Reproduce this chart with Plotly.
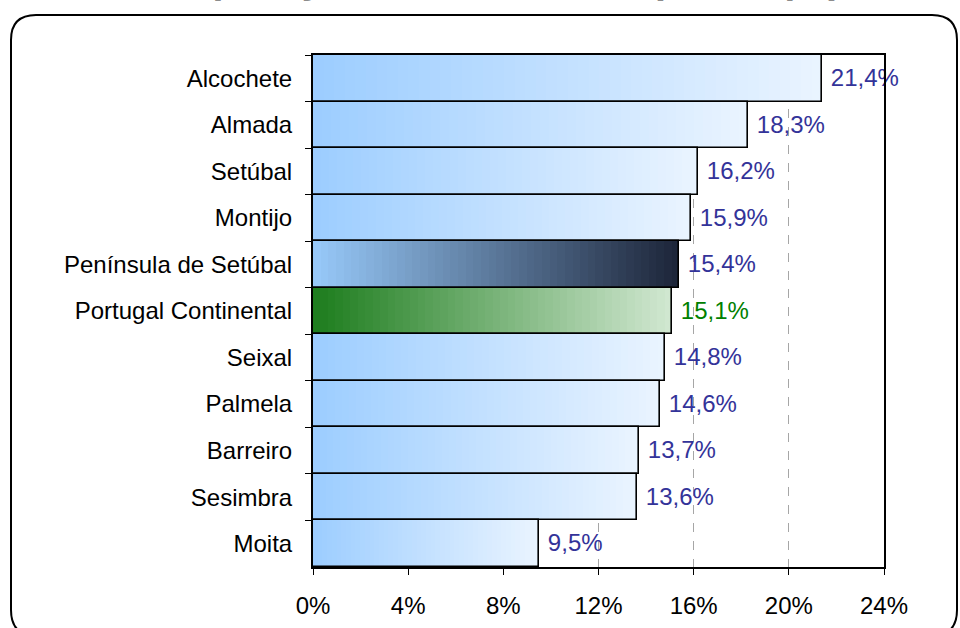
import plotly.graph_objects as go

# ---- data ----
categories = ["Alcochete", "Almada", "Setúbal", "Montijo", "Península de Setúbal",
              "Portugal Continental", "Seixal", "Palmela", "Barreiro", "Sesimbra", "Moita"]
values = [21.4, 18.3, 16.2, 15.9, 15.4, 15.1, 14.8, 14.6, 13.7, 13.6, 9.5]
x_ticks = [0, 4, 8, 12, 16, 20, 24]
title_text = "População com ensino superior (%)"

# ---- style ----
W, H = 960, 628
ML, MR, MT, MB = 313, 76, 55, 61
FONT = "Liberation Sans, Arial, sans-serif"
FS = 24

palettes = {
    "default": ((156, 205, 255), (234, 244, 255)),
    "Península de Setúbal": ((152, 202, 250), (28, 36, 56)),
    "Portugal Continental": ((28, 124, 28), (210, 232, 210)),
}
label_colors = {"Portugal Continental": "#008000"}
N_STEPS = 48


def mix(c0, c1, t):
    return "rgb(%d,%d,%d)" % tuple(round(a + (b - a) * t) for a, b in zip(c0, c1))


fig = go.Figure()

# gradient layers (horizontal gradient approximated by segments of each bar)
for k in range(N_STEPS):
    t = (k + 0.5) / N_STEPS
    cols = [mix(*palettes.get(c, palettes["default"]), t) for c in categories]
    fig.add_trace(go.Bar(
        y=categories,
        x=[v / N_STEPS * 1.05 if k < N_STEPS - 1 else v / N_STEPS for v in values],
        base=[v * k / N_STEPS for v in values],
        orientation="h",
        marker=dict(color=cols, line=dict(width=0)),
        hoverinfo="skip",
        showlegend=False,
    ))

# outline + labels
labels = ["\u00a0" + f"{v:.1f}".replace(".", ",") + "%" for v in values]
fig.add_trace(go.Bar(
    y=categories,
    x=values,
    orientation="h",
    marker=dict(color="rgba(0,0,0,0)", line=dict(color="black", width=1.6)),
    text=labels,
    textposition="outside",
    textfont=dict(family=FONT, size=FS,
                  color=[label_colors.get(c, "#333399") for c in categories]),
    cliponaxis=False,
    showlegend=False,
))


def px(x):
    return (x - ML) / (W - ML - MR)


def py(y):
    return (H - MB - y) / (H - MT - MB)


L, R, T, B, RT, RB = 11, 957, 15, 636, 25, 26
path = (f"M {px(L)},{py(T + RT)} Q {px(L)},{py(T)} {px(L + RT)},{py(T)} "
        f"L {px(R - RT)},{py(T)} Q {px(R)},{py(T)} {px(R)},{py(T + RT)} "
        f"L {px(R)},{py(B - RB)} Q {px(R)},{py(B)} {px(R - RB)},{py(B)} "
        f"L {px(L + RB)},{py(B)} Q {px(L)},{py(B)} {px(L)},{py(B - RB)} Z")

fig.update_layout(
    width=W, height=H,
    margin=dict(l=ML, r=MR, t=MT, b=MB, autoexpand=False),
    paper_bgcolor="white",
    plot_bgcolor="white",
    barmode="overlay",
    bargap=0,
    font=dict(family=FONT, size=FS, color="black"),
    uniformtext=dict(mode=False),
    shapes=[dict(type="path", path=path, xref="paper", yref="paper",
                 line=dict(color="black", width=2), fillcolor="rgba(0,0,0,0)",
                 layer="below")],
    annotations=[dict(text=f"<b><i>{title_text}</i></b>", x=px(505), y=py(3),
                      xref="paper", yref="paper", xanchor="center", yanchor="bottom",
                      showarrow=False, font=dict(family=FONT, size=40, color="#8c8c8c"))],
)

fig.update_xaxes(
    range=[0, 24],
    automargin=False,
    tickvals=x_ticks,
    ticktext=[f"{t}%" for t in x_ticks],
    ticks="outside", ticklen=6, tickwidth=1, tickcolor="black",
    ticklabelstandoff=10,
    showline=True, linecolor="black", linewidth=2, mirror=True,
    showgrid=True, gridcolor="#a6a6a6", griddash="dash", gridwidth=1,
    zeroline=False,
    tickfont=dict(family=FONT, size=FS, color="black"),
)
fig.update_yaxes(
    automargin=False,
    categoryorder="array", categoryarray=categories, autorange="reversed",
    tickson="boundaries",
    ticks="outside", ticklen=6, tickwidth=1, tickcolor="black",
    ticklabelstandoff=14,
    showline=True, linecolor="black", linewidth=2, mirror=True,
    showgrid=False,
    tickfont=dict(family=FONT, size=FS, color="black"),
)

fig.write_html("out.html", config={"displayModeBar": False},
               post_script="document.body.style.margin='0';")
